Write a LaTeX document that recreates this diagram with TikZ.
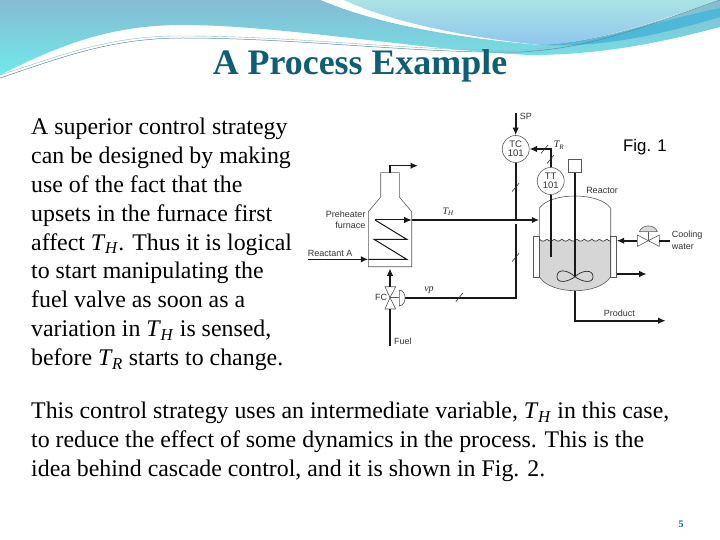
\documentclass[tikz,border=0pt]{standalone}
\usepackage{fontspec}
\setmainfont{Liberation Serif}
\setsansfont{Liberation Sans}
\usetikzlibrary{arrows.meta}
\usetikzlibrary{calc}
\definecolor{titleteal}{HTML}{0E5F76}
\definecolor{bandblue}{HTML}{86BBD3}
\definecolor{bandcyan}{HTML}{6FEAEA}
\definecolor{paleaqua}{HTML}{ABE3E4}
\definecolor{paleblue}{HTML}{8FC6EE}
\definecolor{darkband}{HTML}{4FB8D8}
\definecolor{liquidgray}{HTML}{D6D6D6}
\newcommand{\tvar}[1]{\textit{T}\kern-0.5pt\textsubscript{\textit{#1}}}
\tikzset{
	pipe/.style={line width=1.6pt, color=black!90},
	flow/.style={pipe, -{Latex[length=7.5pt, width=6.5pt]}},
	shell/.style={line width=0.6pt, color=black!65},
	tick/.style={line width=0.6pt, color=black!80},
	bubble/.style={circle, draw=black!65, line width=0.6pt, fill=white, minimum size=27pt, inner sep=0pt, align=center, font=\sffamily\fontsize{9.5}{9.5}\selectfont, text=black!80},
	tag/.style={inner sep=0pt, font=\sffamily\fontsize{9}{10}\selectfont, text=black!80},
	sym/.style={inner sep=0pt, font=\fontsize{10}{10}\selectfont, text=black!85},
	body/.style={inner sep=0pt, anchor=north west, align=left, font=\fontsize{23.85}{28.85}\selectfont, text=black}
}
\begin{document}
\begin{tikzpicture}[x=1pt, y=-1pt]
	\useasboundingbox (0, 0) rectangle (720, 540);
	\fill[white] (0, 0) rectangle (720, 540);

	% header swoosh
	\shade[top color=bandblue, bottom color=bandcyan] (0, 0) -- (321, 0) .. controls (380, 25) and (460, 38) .. (541, 45) .. controls (590, 44) and (660, 22) .. (720, 0) -- (720, 27) .. controls (660, 43) and (600, 55) .. (530, 55) .. controls (420, 50) and (280, 25) .. (183, 25) .. controls (110, 25) and (60, 45) .. (0, 75) -- cycle;
	\fill[white] (321, 0) -- (344, 0) .. controls (390, 22) and (470, 38) .. (541, 45) .. controls (460, 38) and (380, 25) .. (321, 0) -- cycle;
	\shade[top color=paleaqua, bottom color=paleblue] (344, 0) .. controls (390, 22) and (470, 38) .. (541, 45) .. controls (600, 42) and (660, 20) .. (720, 0) -- cycle;
	\fill[darkband] (541, 45) .. controls (600, 42) and (660, 20) .. (720, 8) -- (720, 17) .. controls (660, 35) and (600, 48) .. (541, 45) -- cycle;
	\draw[titleteal!70, line width=0.5pt] (0, 78) .. controls (60, 58) and (110, 38) .. (183, 38) .. controls (300, 38) and (420, 54) .. (520, 52) .. controls (600, 48) and (660, 20) .. (720, 0);
	\draw[titleteal!45, line width=0.4pt] (0, 75) .. controls (60, 56) and (110, 35) .. (183, 36) .. controls (300, 36) and (420, 52) .. (520, 50) .. controls (600, 46) and (660, 16) .. (720, 6);

	% slide text
	\node[inner sep=0pt, text=titleteal, font=\bfseries\fontsize{35.9}{38}\selectfont] (title) at (360, 66) {A Process Example};
	\node[body] (left) at (31, 118) {A superior control strategy\\can be designed by making\\use of the fact that the\\upsets in the furnace first\\affect \tvar{H}. Thus it is logical\\to start manipulating the\\fuel valve as soon as a\\variation in \tvar{H} is sensed,\\before \tvar{R} starts to change.};
	\node[body] (lower) at (31, 402) {This control strategy uses an intermediate variable, \tvar{H} in this case,\\to reduce the effect of some dynamics in the process. This is the\\idea behind cascade control, and it is shown in Fig. 2.};
	\node[inner sep=0pt, text=titleteal, font=\bfseries\fontsize{10}{12}\selectfont] (page) at (681, 524) {5};
	\node[inner sep=0pt, font=\sffamily\fontsize{16.8}{18}\selectfont] (fig) at (645, 147) {Fig. 1};

	% reactor
	\fill[liquidgray] (539.3, 240) -- (610.7, 240) -- (610.7, 276.7) .. controls (605, 286) and (590, 290.7) .. (575, 290.7) .. controls (560, 290.7) and (545, 286) .. (539.3, 276.7) -- cycle;
	\draw[shell, fill=white] (533.3, 236) rectangle (539.3, 277.3);
	\draw[shell, fill=white] (610.7, 236) rectangle (616.7, 277.3);
	\draw[shell] (539.3, 276.7) -- (539.3, 208.3) .. controls (545, 200) and (560, 196) .. (575, 196) .. controls (590, 196) and (605, 200) .. (610.7, 208.3) -- (610.7, 276.7) .. controls (605, 286) and (590, 290.7) .. (575, 290.7) .. controls (560, 290.7) and (545, 286) .. (539.3, 276.7);
	\draw[shell, color=black!80] plot[domain=539.3:610.7, samples=80] (\x, {239 + 2.2*abs(sin(24*(\x - 539.3)))});

	% furnace
	\draw[shell] (380.7, 197) -- (380.7, 172.7) -- (399.3, 172.7) -- (399.3, 197) -- (411.7, 211.7) -- (411.7, 266.7) -- (368.3, 266.7) -- (368.3, 211.7) -- cycle;
	\coordinate (stack) at (390, 172.7);
	\coordinate (stackbend) at (390, 165.7);
	\coordinate (stackout) at (418, 165.7);
	\draw[flow] (stack) -- (stackbend) -- (stackout);

	% coil
	\coordinate (feed) at (308, 259.3);
	\coordinate (furnacein) at (368.3, 259.3);
	\coordinate (coila) at (406.7, 259.3);
	\coordinate (coilb) at (374, 239.3);
	\coordinate (coilc) at (406.7, 239.3);
	\coordinate (coild) at (375, 220);
	\coordinate (coile) at (411.7, 220);
	\draw[flow] (feed) -- (furnacein);
	\draw[line width=1pt, color=black!90] (furnacein) -- (coila) -- (coilb) -- (coilc) -- (coild);
	\draw[flow, line width=1pt] (coild) -- (coile);

	% instruments
	\node[bubble] (tc) at (515.7, 149) {TC\\[-0.5pt]101};
	\node[bubble] (tt) at (550.7, 181) {TT\\[-0.5pt]101};
	\coordinate (spin) at (515.7, 112.7);
	\coordinate (trbend) at (tt |- tc);
	\coordinate (probe) at (550.7, 257.3);
	\coordinate (thin) at (539.3, 220);
	\coordinate (cross) at (515.7, 222.5);
	\coordinate (vpbend) at (515.7, 297.7);
	\draw[flow] (spin) -- (tc);
	\draw[flow] (tt) -- (trbend) -- (tc);
	\draw[pipe] (tt) -- (probe);
	\draw[pipe] (tc) -- (cross);
	\draw[flow] (coile) -- (thin);
	\fill[white] (514, 221.2) rectangle (517.4, 224.5);

	% fuel valve
	\coordinate (fc) at (390, 297.7);
	\coordinate (vpend) at (405, 297.7);
	\coordinate (fuelin) at (390, 345.7);
	\coordinate (fuelout) at (390, 268.3);
	\draw[pipe] (cross) ++(0, 2) -- (vpbend) -- (vpend);
	\draw[shell, fill=white] (fc) -- (385, 286.7) -- (395.7, 286.7) -- cycle;
	\draw[shell, fill=white] (fc) -- (385, 309) -- (395.7, 309) -- cycle;
	\draw[shell] (fc) -- (399.3, 297.7);
	\draw[shell] (399.3, 290) -- (399.3, 306) .. controls (407, 305) and (407, 291) .. (399.3, 290);
	\draw[pipe] (fuelin) -- (390, 309);
	\draw[flow] (390, 286.7) -- (fuelout);

	% agitator
	\node[draw=black!65, line width=0.6pt, fill=white, minimum size=13.4pt, inner sep=0pt] (motor) at (575, 166) {};
	\coordinate (hub) at (575, 276.7);
	\draw[pipe] (motor) -- (hub);
	\draw[line width=0.7pt, color=black!85] (hub) .. controls (568, 270) and (557, 268) .. (557, 276.7) .. controls (557, 284) and (568, 282) .. (hub) .. controls (582, 270) and (593, 269) .. (593, 276.7) .. controls (593, 284) and (582, 282) .. (hub);

	% product and jacket lines
	\coordinate (bottom) at (575, 290.7);
	\coordinate (productbend) at (575, 320.7);
	\coordinate (productout) at (665.7, 320.7);
	\coordinate (jacketin) at (616.7, 240.7);
	\coordinate (jacketout) at (616.7, 274);
	\coordinate (drain) at (646.7, 274);
	\draw[flow] (bottom) -- (productbend) -- (productout);
	\draw[flow] (jacketout) -- (drain);

	% cooling valve
	\coordinate (cv) at (648.3, 240.7);
	\coordinate (cvin) at (670, 240.7);
	\draw[shell, fill=white] (cv) -- (637.3, 235) -- (637.3, 246.4) -- cycle;
	\draw[shell, fill=white] (cv) -- (659.3, 235) -- (659.3, 246.4) -- cycle;
	\draw[shell] (cv) -- (648.3, 231.7);
	\draw[shell, fill=black!15] (639.3, 231.7) -- (657.3, 231.7) .. controls (655, 224) and (642, 224) .. (639.3, 231.7);
	\draw[pipe] (cvin) -- (659.3, 240.7);
	\draw[flow] (637.3, 240.7) -- (jacketin);

	% signal ticks
	\draw[tick] (455.8, 301.7) -- (462.8, 293);
	\draw[tick] (512.2, 191.5) -- (519.2, 183);
	\draw[tick] (512.2, 261.5) -- (519.2, 253);
	\draw[tick] (541, 153.5) -- (548, 145);
	\draw[tick] (547, 163.5) -- (554, 155);

	% labels
	\node[tag, anchor=east] (preheat) at (365.7, 214) {Preheater};
	\node[tag, anchor=east] (furn) at (365.7, 225.3) {furnace};
	\node[tag, anchor=west] (reactant) at (307.7, 253.3) {Reactant A};
	\node[tag, anchor=west] (fuel) at (394, 341.7) {Fuel};
	\node[tag] (fclabel) at (381, 297.7) {FC};
	\node[tag, anchor=west] (sp) at (519.7, 116.7) {SP};
	\node[tag] (reactor) at (602, 190.7) {Reactor};
	\node[tag] (product) at (619.3, 313.7) {Product};
	\node[tag, anchor=west] (cool) at (671.7, 235.5) {Cooling};
	\node[tag, anchor=west] (water) at (671.7, 246.5) {water};
	\node[sym] (thlabel) at (448.3, 211.7) {\tvar{H}};
	\node[sym] (trlabel) at (559, 145) {\tvar{R}};
	\node[sym] (vplabel) at (429, 290) {\textit{vp}};
\end{tikzpicture}
\end{document}
